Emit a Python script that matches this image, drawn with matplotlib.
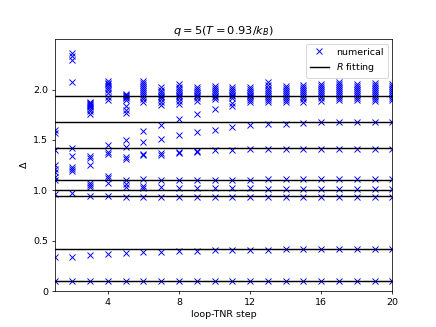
import matplotlib
matplotlib.use("Agg")
import matplotlib.pyplot as plt

# loop-TNR step numbers
steps = list(range(1, 21))

step01 = [1.60, 1.57, 1.40, 1.25, 1.21, 1.18, 1.13, 1.10, 0.96, 0.34, 0.10]
step02 = [2.36, 2.33, 2.29, 2.08, 1.42, 1.34, 1.23, 1.21, 1.19, 0.97, 0.34, 0.10]
step03 = [1.88, 1.87, 1.86, 1.85, 1.84, 1.83, 1.81, 1.79, 1.76, 1.34, 1.32, 1.25,
          1.07, 1.05, 1.03, 0.94, 0.36, 0.10]
step04 = [2.09, 2.07, 2.06, 2.04, 2.02, 2.00, 1.97, 1.93, 1.90, 1.45, 1.38, 1.36,
          1.14, 1.12, 1.07, 0.94, 0.37, 0.10]
step05 = [1.96, 1.95, 1.94, 1.93, 1.92, 1.90, 1.84, 1.80, 1.77, 1.50, 1.43, 1.33,
          1.31, 1.10, 1.06, 1.03, 0.93, 0.38, 0.10]
step06 = [2.09, 2.07, 2.05, 2.03, 2.01, 1.99, 1.97, 1.95, 1.93, 1.91, 1.88, 1.59,
          1.48, 1.36, 1.35, 1.11, 1.04, 1.02, 0.93, 0.39, 0.10]
step07 = [2.03, 2.00, 1.98, 1.96, 1.94, 1.93, 1.91, 1.88, 1.85, 1.65, 1.51, 1.37,
          1.35, 1.10, 1.03, 0.93, 0.39, 0.10]
step08 = [2.06, 2.03, 2.01, 1.99, 1.97, 1.95, 1.94, 1.92, 1.89, 1.86, 1.71, 1.55,
          1.38, 1.37, 1.10, 1.02, 0.93, 0.40, 0.10]
step09 = [2.03, 2.01, 1.99, 1.97, 1.95, 1.94, 1.92, 1.89, 1.76, 1.58, 1.39, 1.38,
          1.10, 1.02, 0.93, 0.40, 0.10]
step10 = [2.04, 2.02, 2.00, 1.98, 1.96, 1.94, 1.93, 1.91, 1.81, 1.60, 1.40, 1.10,
          1.02, 0.93, 0.41, 0.10]
step11 = [2.03, 2.01, 1.99, 1.97, 1.95, 1.94, 1.92, 1.87, 1.84, 1.63, 1.40, 1.10,
          1.02, 0.93, 0.41, 0.10]
step12 = [2.03, 2.01, 1.99, 1.97, 1.95, 1.94, 1.92, 1.90, 1.88, 1.65, 1.41, 1.10,
          1.02, 0.93, 0.41, 0.10]
step13 = [2.08, 2.05, 2.02, 2.00, 1.98, 1.96, 1.94, 1.92, 1.90, 1.88, 1.66, 1.41,
          1.11, 1.01, 0.93, 0.41, 0.10]
step14 = [2.04, 2.02, 2.00, 1.98, 1.96, 1.94, 1.92, 1.90, 1.88, 1.66, 1.41, 1.11,
          1.01, 0.93, 0.415, 0.10]
step15 = [2.05, 2.03, 2.01, 1.99, 1.97, 1.95, 1.93, 1.91, 1.88, 1.67, 1.41, 1.11,
          1.01, 0.93, 0.415, 0.10]
step16 = [2.06, 2.04, 2.02, 2.00, 1.98, 1.96, 1.94, 1.92, 1.89, 1.675, 1.41, 1.11,
          1.01, 0.93, 0.415, 0.10]
step17 = [2.08, 2.06, 2.04, 2.02, 2.00, 1.98, 1.96, 1.94, 1.92, 1.90, 1.68, 1.41,
          1.11, 1.01, 0.93, 0.42, 0.10]
step18 = [2.06, 2.04, 2.02, 2.00, 1.98, 1.96, 1.94, 1.92, 1.90, 1.68, 1.41, 1.11,
          1.01, 0.93, 0.42, 0.10]
step19 = [2.07, 2.05, 2.03, 2.01, 1.99, 1.97, 1.95, 1.93, 1.91, 1.89, 1.68, 1.41,
          1.11, 1.01, 0.93, 0.42, 0.10]
step20 = [2.06, 2.04, 2.02, 2.00, 1.98, 1.96, 1.94, 1.92, 1.90, 1.68, 1.41, 1.11,
          1.01, 0.93, 0.42, 0.10]
numerical = [step01, step02, step03, step04, step05, step06, step07, step08, step09, step10,
             step11, step12, step13, step14, step15, step16, step17, step18, step19, step20]

# scaling dimensions from the R fitting
r_fit = [0.10, 0.42, 0.94, 1.00, 1.10, 1.42, 1.68, 1.94]

fig, ax = plt.subplots(figsize=(6.4, 4.8), dpi=68.125)

for i, (s, vals) in enumerate(zip(steps, numerical)):
    ax.plot([s] * len(vals), vals, 'bx', label='numerical' if i == 0 else None)

for j, d in enumerate(r_fit):
    ax.axhline(d, color='k', lw=1.5, label='$R$ fitting' if j == 0 else None)

ax.set_xlim(1, 20)
ax.set_ylim(0, 2.5)
ax.set_xticks([4, 8, 12, 16, 20])
ax.set_yticks([0, 0.5, 1.0, 1.5, 2.0])
ax.set_yticklabels(['0', '0.5', '1.0', '1.5', '2.0'])
ax.set_xlabel('loop-TNR step')
ax.set_ylabel(r'$\Delta$')
ax.set_title(r'$q=5(T=0.93/k_B)$')
ax.legend(loc='upper right')

fig.savefig('out.png', dpi=68.125)
